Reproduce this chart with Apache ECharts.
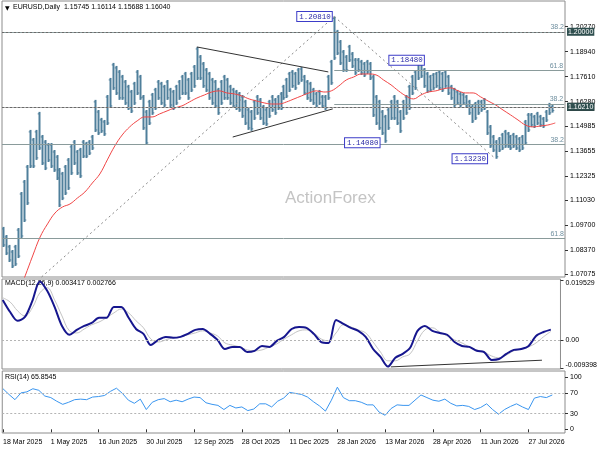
<!DOCTYPE html>
<html><head><meta charset="utf-8">
<script src="https://cdn.jsdelivr.net/npm/echarts@6/dist/echarts.min.js"></script>
<style>html,body{margin:0;padding:0;background:#fff}#c{width:600px;height:450px}</style>
</head><body><div id="c"></div>
<script>
// ---- calendar / categories ----
const startDate = '2025-03-18';
const holidays = ['2025-12-25', '2026-01-01'];
const totalDays = 377;
const tickDates = ['2025-03-18','2025-05-01','2025-06-16','2025-07-30','2025-09-12','2025-10-28','2025-12-11','2026-01-28','2026-03-13','2026-04-28','2026-06-11','2026-07-27'];
const monthNames = ['Jan','Feb','Mar','Apr','May','Jun','Jul','Aug','Sep','Oct','Nov','Dec'];

// ---- price axis tick labels ----
const priceTicks = [1.07075,1.08370,1.09700,1.11030,1.12325,1.13655,1.14985,1.16280,1.17610,1.18940,1.20270];
const priceMin = 1.0693, priceMax = 1.2164;

// ---- price bars (each bar = 2 trading days) ----
const barStep = 2;
const highs = [1.0960,1.0917,1.0864,1.0837,1.0864,1.0954,1.1146,1.1210,1.1290,1.1477,
1.1434,1.1477,1.1573,1.1450,1.1423,1.1407,1.1407,1.1370,1.1343,1.1274,
1.1253,1.1290,1.1327,1.1397,1.1423,1.1370,1.1381,1.1423,1.1413,1.1423,
1.1450,1.1637,1.1583,1.1541,1.1530,1.1663,1.1754,1.1834,1.1818,1.1796,
1.1770,1.1743,1.1717,1.1690,1.1733,1.1796,1.1770,1.1663,1.1583,1.1637,
1.1674,1.1701,1.1743,1.1733,1.1717,1.1743,1.1701,1.1690,1.1717,1.1743,
1.1770,1.1786,1.1754,1.1786,1.1823,1.1919,1.1876,1.1839,1.1807,1.1786,
1.1754,1.1743,1.1701,1.1743,1.1770,1.1754,1.1717,1.1701,1.1690,1.1679,
1.1663,1.1637,1.1594,1.1583,1.1637,1.1663,1.1647,1.1610,1.1594,1.1637,
1.1663,1.1647,1.1663,1.1679,1.1717,1.1754,1.1786,1.1796,1.1786,1.1807,
1.1812,1.1770,1.1743,1.1733,1.1701,1.1679,1.1690,1.1663,1.1663,1.1770,
1.1850,1.2081,1.2010,1.1956,1.1903,1.1876,1.1930,1.1892,1.1860,1.1860,
1.1850,1.1839,1.1850,1.1839,1.1770,1.1663,1.1637,1.1583,1.1557,1.1594,
1.1637,1.1663,1.1637,1.1583,1.1637,1.1663,1.1717,1.1770,1.1796,1.1839,
1.1848,1.1807,1.1786,1.1770,1.1780,1.1786,1.1796,1.1786,1.1796,1.1770,
1.1717,1.1701,1.1690,1.1679,1.1674,1.1663,1.1637,1.1610,1.1626,1.1637,
1.1637,1.1647,1.1583,1.1503,1.1450,1.1423,1.1439,1.1461,1.1477,1.1466,
1.1450,1.1461,1.1450,1.1439,1.1450,1.1530,1.1567,1.1567,1.1557,1.1573,
1.1557,1.1546,1.1583,1.1621,1.1611];
const lows = [1.0853,1.0810,1.0773,1.0741,1.0752,1.0794,1.0901,1.0986,1.1077,1.1274,
1.1274,1.1317,1.1370,1.1290,1.1263,1.1306,1.1274,1.1253,1.1210,1.1066,
1.1103,1.1130,1.1157,1.1237,1.1290,1.1237,1.1221,1.1327,1.1327,1.1343,
1.1370,1.1466,1.1450,1.1461,1.1445,1.1503,1.1594,1.1690,1.1663,1.1637,
1.1637,1.1610,1.1583,1.1567,1.1610,1.1663,1.1637,1.1477,1.1397,1.1503,
1.1557,1.1583,1.1637,1.1610,1.1599,1.1637,1.1599,1.1583,1.1610,1.1637,
1.1663,1.1663,1.1637,1.1679,1.1701,1.1743,1.1743,1.1701,1.1679,1.1637,
1.1610,1.1594,1.1557,1.1610,1.1637,1.1637,1.1610,1.1594,1.1583,1.1573,
1.1541,1.1503,1.1477,1.1472,1.1530,1.1557,1.1530,1.1503,1.1498,1.1541,
1.1573,1.1557,1.1583,1.1583,1.1637,1.1647,1.1679,1.1701,1.1690,1.1717,
1.1733,1.1663,1.1637,1.1626,1.1610,1.1594,1.1610,1.1594,1.1583,1.1637,
1.1717,1.1850,1.1876,1.1823,1.1786,1.1786,1.1839,1.1807,1.1770,1.1786,
1.1770,1.1759,1.1775,1.1743,1.1546,1.1503,1.1477,1.1450,1.1408,1.1477,
1.1530,1.1530,1.1503,1.1461,1.1530,1.1557,1.1583,1.1663,1.1690,1.1743,
1.1754,1.1701,1.1674,1.1679,1.1690,1.1701,1.1690,1.1679,1.1701,1.1663,
1.1637,1.1599,1.1610,1.1599,1.1610,1.1594,1.1557,1.1514,1.1530,1.1557,
1.1573,1.1583,1.1450,1.1381,1.1359,1.1323,1.1359,1.1370,1.1381,1.1381,
1.1370,1.1381,1.1370,1.1359,1.1370,1.1397,1.1466,1.1493,1.1487,1.1503,
1.1493,1.1487,1.1519,1.1557,1.1569];

// ---- moving average (one value every 5 trading days, from day 10) ----
const maStep = 5, maStart = 10;
const maVals = [1.0597,1.0699,1.0805,1.0906,1.0976,1.1034,1.1066,1.1082,1.1114,1.1146,
1.1194,1.1242,1.1317,1.1391,1.1450,1.1493,1.1525,1.1546,1.1546,1.1562,
1.1578,1.1594,1.1605,1.1626,1.1647,1.1663,1.1679,1.1685,1.1674,1.1669,
1.1658,1.1642,1.1631,1.1621,1.1615,1.1615,1.1626,1.1642,1.1658,1.1674,
1.1685,1.1679,1.1685,1.1711,1.1743,1.1759,1.1775,1.1775,1.1770,1.1743,
1.1717,1.1685,1.1658,1.1642,1.1663,1.1679,1.1685,1.1696,1.1701,1.1685,
1.1674,1.1674,1.1653,1.1631,1.1610,1.1583,1.1557,1.1530,1.1503,1.1493,
1.1498,1.1503,1.1514];

// ---- MACD (one value every 5 trading days) ----
const macdStep = 5;
const macdVals = [0.0132,0.0092,0.0063,0.0076,0.0129,0.0193,0.0162,0.0109,0.0046,0.0017,
0.0033,0.0046,0.0056,0.0073,0.0073,0.0109,0.0109,0.0073,0.0036,0.0020,
-0.0017,0.0000,0.0010,0.0007,0.0010,0.0020,0.0033,0.0036,0.0020,0.0000,
-0.0030,-0.0023,-0.0023,-0.0040,-0.0036,-0.0020,-0.0023,-0.0003,0.0010,0.0036,
0.0043,0.0040,0.0020,-0.0007,-0.0010,0.0066,0.0053,0.0040,0.0030,0.0010,
-0.0030,-0.0056,-0.0088,-0.0059,-0.0046,-0.0026,0.0030,0.0046,0.0030,0.0023,
0.0017,-0.0007,-0.0020,-0.0023,-0.0036,-0.0040,-0.0066,-0.0063,-0.0046,-0.0033,
-0.0030,-0.0020,0.0013,0.0026,0.0034];
const signalVals = [0.0139,0.0125,0.0096,0.0079,0.0106,0.0155,0.0172,0.0132,0.0079,0.0030,
0.0023,0.0036,0.0050,0.0059,0.0073,0.0089,0.0102,0.0089,0.0063,0.0040,
0.0003,-0.0007,0.0000,0.0007,0.0010,0.0017,0.0023,0.0030,0.0023,0.0013,
-0.0010,-0.0017,-0.0023,-0.0033,-0.0036,-0.0033,-0.0023,-0.0013,0.0003,0.0017,
0.0030,0.0033,0.0023,0.0003,-0.0003,0.0023,0.0050,0.0043,0.0033,0.0023,
-0.0007,-0.0040,-0.0069,-0.0069,-0.0056,-0.0046,-0.0003,0.0033,0.0040,0.0026,
0.0013,0.0000,-0.0010,-0.0023,-0.0033,-0.0040,-0.0053,-0.0059,-0.0050,-0.0036,
-0.0030,-0.0023,-0.0010,0.0010,0.0028];
const macdLabels = [0.019529, 0, -0.009398];

// ---- RSI (one value every 4 trading days) ----
const rsiStep = 4;
const rsiVals = [78,67,57,70,72,78,75,64,61,54,
48,52,57,58,57,62,63,65,73,79,
69,56,50,58,38,52,57,59,53,56,
53,58,62,61,51,48,46,38,46,41,
43,36,39,49,49,43,54,60,71,69,
67,62,53,45,35,56,81,61,55,55,
52,47,47,33,27,40,47,46,46,56,
66,61,56,54,58,50,45,46,44,38,
42,49,38,29,38,44,49,43,38,60,
63,61,66];
const rsiTicks = [100, 70, 30, 0];

// ---- annotation levels ----
const fibFullLevels = [1.2026, 1.1358, 1.0905];
const fibFullText = ['38.2', '38.2', '61.8'];
const fibPartLevels = [1.1795, 1.1615];
const fibPartText = ['61.8', '38.2'];
const fibPartStartDay = 222;
const hLine120 = 1.2000, hLine1621 = 1.1621, bidPrice = 1.1604;
const swingLabels = [
  {day: 222, price: 1.2081, text: '1.20810', dist: 2},
  {day: 256, price: 1.1408, text: '1.14080', dist: 5},
  {day: 283, price: 1.1848, text: '1.18480', dist: 1},
  {day: 330, price: 1.1323, text: '1.13230', dist: 8}
];
const diagLines = [[26, 1.0693, 222, 1.2081], [222, 1.2081, 330, 1.1323]];
const triangleLines = [[130, 1.1919, 218, 1.1786], [154, 1.1439, 221, 1.1589]];
const macdTrend = [262, -0.0089, 364, -0.0067];

// ---- build ----
const days = [];
{ let d = new Date(startDate + 'T00:00:00Z');
  while (days.length < totalDays) {
    const dow = d.getUTCDay(), s = d.toISOString().slice(0, 10);
    if (dow !== 0 && dow !== 6 && !holidays.includes(s)) days.push(s);
    d.setUTCDate(d.getUTCDate() + 1);
  } }
const fmtDate = s => (+s.slice(8, 10)) + ' ' + monthNames[+s.slice(5, 7) - 1] + ' ' + s.slice(0, 4);

// price bars drawn as thin high-low sticks through the library's own scales
const barData = highs.map((h, i) => [i * barStep, lows[i], h]);
const maData = maVals.map((v, k) => [days[maStart + k * maStep], v]);
const macdData = macdVals.map((v, k) => [days[k * macdStep], v]);
const sigData = signalVals.map((v, k) => [days[k * macdStep], v]);
const rsiData = rsiVals.map((v, k) => [days[k * rsiStep], v]);
const lastDay = days[days.length - 1];

const FONT = 'Liberation Sans, Arial, sans-serif';
const fibColor = '#8a9b9b', fibText = '#6f8f9f';
const mlLines = [];
fibFullLevels.forEach((v, i) => mlLines.push({yAxis: v, lineStyle: {color: fibColor, width: 1, type: 'solid'},
  label: {show: true, position: 'insideEndTop', formatter: fibFullText[i], color: fibText, fontSize: 7, fontFamily: FONT, distance: 1}}));
fibPartLevels.forEach((v, i) => mlLines.push([{coord: [days[fibPartStartDay], v], lineStyle: {color: fibColor, width: 1, type: 'solid'},
  label: {show: true, position: 'insideEndTop', formatter: fibPartText[i], color: fibText, fontSize: 7, fontFamily: FONT, distance: 1}}, {coord: [lastDay, v]}]));
const boxLabel = (txt, bg) => ({show: true, position: 'end', formatter: txt, backgroundColor: bg, color: '#fff', fontSize: 7, fontFamily: FONT, padding: [1, 1, 0, 1], distance: 2});
mlLines.push({yAxis: bidPrice, lineStyle: {color: '#a8a8a8', width: 1, type: 'solid'}, label: boxLabel('1.16040', '#000')});
mlLines.push({yAxis: hLine1621, lineStyle: {color: '#6a6a6a', width: 1, type: [2, 2]}, label: boxLabel('1.16210', '#2f4f4f')});
mlLines.push({yAxis: hLine120, lineStyle: {color: '#6a6a6a', width: 1, type: [2, 2]}, label: boxLabel('1.20000', '#2f4f4f')});
diagLines.forEach(l => mlLines.push([{coord: [days[l[0]], l[1]], lineStyle: {color: '#8a8a8a', width: 1, type: [2, 3]}, label: {show: false}}, {coord: [days[l[2]], l[3]]}]));
triangleLines.forEach(l => mlLines.push([{coord: [days[l[0]], l[1]], lineStyle: {color: '#333', width: 1, type: 'solid'}, label: {show: false}}, {coord: [days[l[2]], l[3]]}]));

const barColor = '#4f7f9b';
const option = {
  animation: false,
  backgroundColor: '#fff',
  grid: [
    {left: 2, right: 35, top: 1, height: 276, show: true, borderColor: '#8c8c8c', borderWidth: 1},
    {left: 2, right: 35, top: 279, height: 90, show: true, borderColor: '#8c8c8c', borderWidth: 1},
    {left: 2, right: 35, top: 371, height: 62, show: true, borderColor: '#8c8c8c', borderWidth: 1}
  ],
  xAxis: [0, 1, 2].map(g => ({
    type: 'category', gridIndex: g, data: days, boundaryGap: true,
    axisLine: {show: false}, splitLine: {show: false},
    axisTick: g === 2 ? {show: true, alignWithLabel: true, interval: (i, v) => tickDates.includes(v), length: 3, lineStyle: {color: '#333'}} : {show: false},
    axisLabel: g === 2 ? {show: true, interval: (i, v) => tickDates.includes(v), formatter: fmtDate, align: 'left', fontSize: 7, color: '#000', fontFamily: FONT, margin: 6} : {show: false}
  })),
  yAxis: [
    {type: 'value', gridIndex: 0, position: 'right', min: priceMin, max: priceMax, splitLine: {show: false}, axisLine: {show: false},
      axisTick: {show: true, customValues: priceTicks, length: 3, lineStyle: {color: '#333'}},
      axisLabel: {customValues: priceTicks, formatter: v => v.toFixed(5), fontSize: 7, color: '#000', fontFamily: FONT, margin: 5}},
    {type: 'value', gridIndex: 1, position: 'right', min: -0.0096, max: 0.0201, splitLine: {show: false}, axisLine: {show: false},
      axisTick: {show: true, customValues: macdLabels, length: 3, lineStyle: {color: '#333'}},
      axisLabel: {customValues: macdLabels, fontSize: 7, color: '#000', fontFamily: FONT, margin: 5,
        formatter: v => v > 0.01 ? '{dn|' + v.toFixed(6) + '}' : (v < -0.005 ? '{up|' + v.toFixed(6) + '}' : '0.00'),
        rich: {dn: {padding: [5, 0, 0, 0], fontSize: 7, fontFamily: FONT}, up: {padding: [0, 0, 6, 0], fontSize: 7, fontFamily: FONT}}}},
    {type: 'value', gridIndex: 2, position: 'right', min: -7.1, max: 112.1, splitLine: {show: false}, axisLine: {show: false},
      axisTick: {show: true, customValues: rsiTicks, length: 3, lineStyle: {color: '#333'}},
      axisLabel: {customValues: rsiTicks, formatter: v => String(v), fontSize: 7, color: '#000', fontFamily: FONT, margin: 5}}
  ],
  series: [
    {type: 'custom', xAxisIndex: 0, yAxisIndex: 0, data: barData, encode: {x: 0, y: [1, 2]}, clip: true, silent: true,
      renderItem: (params, api) => {
        const lo = api.coord([api.value(0), api.value(1)]);
        const hi = api.coord([api.value(0), api.value(2)]);
        const x = Math.round(lo[0]) + 0.5;
        return {type: 'group', children: [
          {type: 'line', shape: {x1: x, y1: lo[1], x2: x, y2: hi[1]}, style: {stroke: barColor, lineWidth: 2}},
          {type: 'line', shape: {x1: x - 1.8, y1: hi[1] + 2, x2: x, y2: hi[1] + 2}, style: {stroke: barColor, lineWidth: 1}},
          {type: 'line', shape: {x1: x, y1: lo[1] - 2, x2: x + 1.8, y2: lo[1] - 2}, style: {stroke: barColor, lineWidth: 1}}
        ]};
      },
      markLine: {silent: true, symbol: ['none', 'none'], animation: false, data: mlLines},
      markPoint: {silent: true, animation: false, symbol: 'rect', symbolSize: 1, itemStyle: {color: 'rgba(0,0,0,0)'},
        data: swingLabels.map(s => ({coord: [days[s.day], s.price], value: s.text,
          label: {show: true, position: 'left', distance: s.dist, formatter: s.text, backgroundColor: '#fff', borderColor: '#3c3cc8', borderWidth: 1,
            color: '#2a2aa6', fontSize: 7.5, fontFamily: 'Liberation Mono, monospace', padding: [1, 1, 0, 2]}}))}},
    {type: 'line', xAxisIndex: 0, yAxisIndex: 0, data: maData, showSymbol: false, smooth: 0.4, clip: true,
      lineStyle: {color: '#f04646', width: 1}},
    {type: 'line', xAxisIndex: 1, yAxisIndex: 1, data: sigData, showSymbol: false, smooth: 0.4,
      lineStyle: {color: '#c4c4c4', width: 1},
      markLine: {silent: true, symbol: ['none', 'none'], label: {show: false}, lineStyle: {color: '#b4b4b4', type: [2, 2], width: 1}, data: [{yAxis: 0}]}},
    {type: 'line', xAxisIndex: 1, yAxisIndex: 1, data: macdData, showSymbol: false, smooth: 0.3,
      lineStyle: {color: '#16168e', width: 2},
      markLine: {silent: true, symbol: ['none', 'none'], label: {show: false}, lineStyle: {color: '#333', type: 'solid', width: 1},
        data: [[{coord: [days[macdTrend[0]], macdTrend[1]]}, {coord: [days[macdTrend[2]], macdTrend[3]]}]]}},
    {type: 'line', xAxisIndex: 2, yAxisIndex: 2, data: rsiData, showSymbol: false,
      lineStyle: {color: '#3a96f0', width: 1},
      markLine: {silent: true, symbol: ['none', 'none'], label: {show: false}, lineStyle: {color: '#b4b4b4', type: [2, 2], width: 1}, data: [{yAxis: 70}, {yAxis: 30}]}}
  ],
  graphic: [
    {type: 'text', left: 5, top: 5, style: {text: '▼', fontSize: 6, fontFamily: 'DejaVu Sans', fill: '#000'}},
    {type: 'text', left: 13, top: 4, style: {text: 'EURUSD,Daily  1.15745 1.16114 1.15688 1.16040', fontSize: 7, fontFamily: FONT, fill: '#000'}},
    {type: 'text', left: 5, top: 280, style: {text: 'MACD(12,26,9) 0.003417 0.002766', fontSize: 7, fontFamily: FONT, fill: '#000'}},
    {type: 'text', left: 5, top: 374, style: {text: 'RSI(14) 65.8545', fontSize: 7, fontFamily: FONT, fill: '#000'}},
    {type: 'text', left: 285, top: 190, z: -1, style: {text: 'ActionForex', fontSize: 17, fontFamily: FONT, fill: '#c4c4c4'}}
  ]
};
echarts.init(document.getElementById('c'), null, {renderer: 'canvas'}).setOption(option);
</script>
</body></html>
